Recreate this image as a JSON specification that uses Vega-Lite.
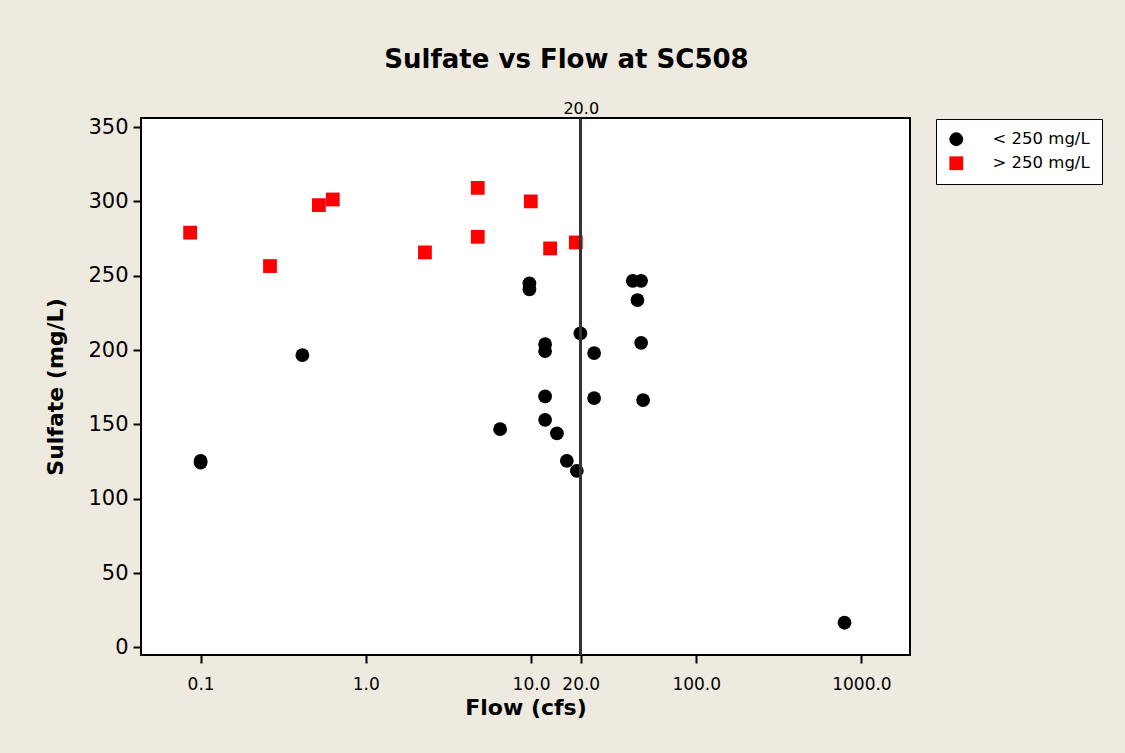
{
  "$schema": "https://vega.github.io/schema/vega-lite/v6.json",
  "width": 769,
  "height": 537,
  "autosize": "none",
  "padding": {"left": 141, "top": 118, "right": 215, "bottom": 98},
  "background": "#EEEAE0",
  "title": {
    "text": "Sulfate vs Flow at SC508",
    "font": "DejaVu Sans",
    "fontSize": 26,
    "fontWeight": "bold",
    "color": "#000000",
    "anchor": "middle",
    "dx": 41,
    "offset": 27
  },
  "config": {
    "view": {"fill": "white", "stroke": "black", "strokeWidth": 2},
    "font": "DejaVu Sans"
  },
  "data": {
    "values": [
      {"flow": 0.0864, "sulfate": 279.0, "class": "> 250 mg/L"},
      {"flow": 0.263, "sulfate": 256.5, "class": "> 250 mg/L"},
      {"flow": 0.52, "sulfate": 297.5, "class": "> 250 mg/L"},
      {"flow": 0.631, "sulfate": 301.3, "class": "> 250 mg/L"},
      {"flow": 2.28, "sulfate": 265.7, "class": "> 250 mg/L"},
      {"flow": 4.76, "sulfate": 309.1, "class": "> 250 mg/L"},
      {"flow": 4.76, "sulfate": 276.2, "class": "> 250 mg/L"},
      {"flow": 9.97, "sulfate": 300.0, "class": "> 250 mg/L"},
      {"flow": 13.05, "sulfate": 268.4, "class": "> 250 mg/L"},
      {"flow": 18.67, "sulfate": 272.4, "class": "> 250 mg/L"},
      {"flow": 0.1, "sulfate": 125.5, "class": "< 250 mg/L"},
      {"flow": 0.1, "sulfate": 124.3, "class": "< 250 mg/L"},
      {"flow": 0.413, "sulfate": 196.6, "class": "< 250 mg/L"},
      {"flow": 9.78, "sulfate": 244.8, "class": "< 250 mg/L"},
      {"flow": 9.78, "sulfate": 240.8, "class": "< 250 mg/L"},
      {"flow": 12.17, "sulfate": 204.0, "class": "< 250 mg/L"},
      {"flow": 12.17, "sulfate": 199.3, "class": "< 250 mg/L"},
      {"flow": 12.17, "sulfate": 168.8, "class": "< 250 mg/L"},
      {"flow": 12.17, "sulfate": 153.1, "class": "< 250 mg/L"},
      {"flow": 19.9, "sulfate": 211.2, "class": "< 250 mg/L"},
      {"flow": 24.1, "sulfate": 198.0, "class": "< 250 mg/L"},
      {"flow": 24.1, "sulfate": 167.7, "class": "< 250 mg/L"},
      {"flow": 6.5, "sulfate": 146.8, "class": "< 250 mg/L"},
      {"flow": 14.35, "sulfate": 144.0, "class": "< 250 mg/L"},
      {"flow": 16.47, "sulfate": 125.5, "class": "< 250 mg/L"},
      {"flow": 18.93, "sulfate": 118.8, "class": "< 250 mg/L"},
      {"flow": 41.3, "sulfate": 246.6, "class": "< 250 mg/L"},
      {"flow": 46.4, "sulfate": 246.6, "class": "< 250 mg/L"},
      {"flow": 44.07, "sulfate": 233.6, "class": "< 250 mg/L"},
      {"flow": 46.4, "sulfate": 204.9, "class": "< 250 mg/L"},
      {"flow": 47.7, "sulfate": 166.4, "class": "< 250 mg/L"},
      {"flow": 790, "sulfate": 16.6, "class": "< 250 mg/L"}
    ]
  },
  "layer": [
    {
      "mark": {"type": "point", "filled": true, "size": 190, "opacity": 1, "strokeWidth": 0},
      "encoding": {
        "x": {
          "field": "flow",
          "type": "quantitative",
          "scale": {"type": "log", "domain": [0.04357, 1968], "nice": false},
          "axis": {
            "values": [0.1, 1, 10, 20, 100, 1000],
            "format": ".1f",
            "grid": false,
            "domain": false,
            "tickColor": "black",
            "tickWidth": 2,
            "tickSize": 8,
            "labelFont": "DejaVu Sans",
            "labelFontSize": 17,
            "labelColor": "black",
            "labelPadding": 13,
            "labelFlush": false,
            "title": "Flow (cfs)",
            "titleFont": "DejaVu Sans",
            "titleFontSize": 22,
            "titleFontWeight": "bold",
            "titleColor": "black",
            "titlePadding": 5
          }
        },
        "y": {
          "field": "sulfate",
          "type": "quantitative",
          "scale": {"domain": [-5.1, 356.1], "nice": false, "zero": false},
          "axis": {
            "values": [0, 50, 100, 150, 200, 250, 300, 350],
            "grid": false,
            "domain": false,
            "tickColor": "black",
            "tickWidth": 2,
            "tickSize": 8,
            "labelFont": "DejaVu Sans",
            "labelFontSize": 21,
            "labelColor": "black",
            "labelPadding": 5,
            "labelFlush": false,
            "title": "Sulfate (mg/L)",
            "titleFont": "DejaVu Sans",
            "titleFontSize": 22,
            "titleFontWeight": "bold",
            "titleColor": "black",
            "titlePadding": 20
          }
        },
        "color": {
          "field": "class",
          "type": "nominal",
          "scale": {"domain": ["< 250 mg/L", "> 250 mg/L"], "range": ["#000000", "#FF0000"]},
          "legend": {
            "title": null,
            "orient": "none",
            "legendX": 795,
            "legendY": 1,
            "strokeColor": "black",
            "fillColor": "white",
            "padding": 12,
            "labelFont": "DejaVu Sans",
            "labelFontSize": 16.5,
            "labelColor": "black",
            "labelOffset": 28,
            "rowPadding": 7,
            "symbolSize": 190,
            "symbolStrokeWidth": 0
          }
        },
        "shape": {
          "field": "class",
          "type": "nominal",
          "scale": {"domain": ["< 250 mg/L", "> 250 mg/L"], "range": ["circle", "square"]}
        }
      }
    },
    {
      "mark": {"type": "rule", "color": "#333333", "strokeWidth": 2},
      "encoding": {
        "x": {
          "datum": 20,
          "type": "quantitative",
          "axis": {
            "orient": "top",
            "values": [20],
            "format": ".1f",
            "grid": false,
            "domain": false,
            "ticks": false,
            "labelFont": "DejaVu Sans",
            "labelFontSize": 16,
            "labelColor": "black",
            "labelPadding": 2,
            "title": null
          }
        }
      }
    }
  ],
  "resolve": {"axis": {"x": "independent"}}
}
